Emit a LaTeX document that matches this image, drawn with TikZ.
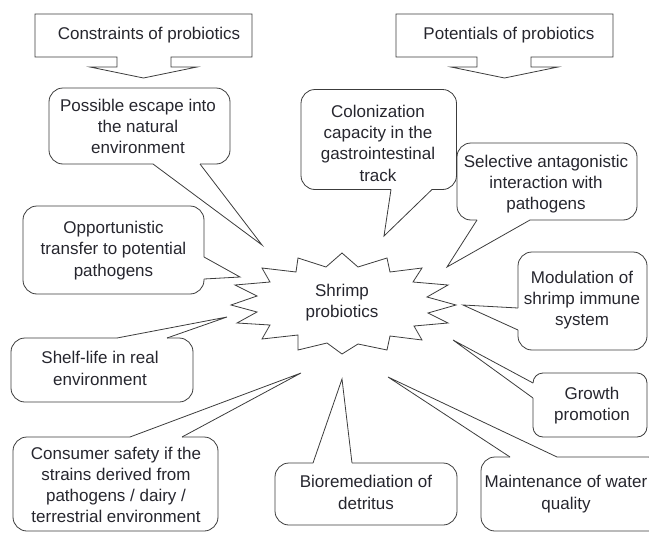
\documentclass[tikz,border=0pt]{standalone}
\usepackage{fontspec}
\setmainfont{Liberation Sans}
\usepackage{xcolor}
\usepackage{tikz}

\definecolor{linegray}{HTML}{3C3C3C}
\definecolor{textgray}{HTML}{26262E}

\tikzset{
  bubble/.style={draw=linegray, line width=0.8pt, rounded corners=14pt},
  tail/.style={draw=linegray, line width=0.8pt, line join=miter},
  bubbletext/.style={font=\fontsize{17}{21.2}\selectfont, text=textgray, align=center, inner sep=0pt}
}

\begin{document}
\begin{tikzpicture}[x=1pt, y=-1pt]
        % Frame
        \useasboundingbox (0,0) rectangle (649,533);
        \clip (0,0) rectangle (649,533);

        % Headings with down arrows
        \draw[tail] (117,57) -- (35,57) -- (35,14) -- (252,14) -- (252,57) -- (171,57) -- (171,67)
            -- (197,67) -- (143.5,78) -- (90,67) -- (117,67) -- cycle;
        \node[bubbletext] (constraints) at (149,35) {Constraints of probiotics};
        \draw[tail] (477,57) -- (396,57) -- (396,14) -- (613,14) -- (613,57) -- (531,57) -- (531,67)
            -- (558,67) -- (504.5,78) -- (451,67) -- (477,67) -- cycle;
        \node[bubbletext] (potentials) at (509,35) {Potentials of probiotics};

        % Centre star
        \draw[tail, fill=white] (342,253) -- (358,267) -- (387,258) -- (390,272) -- (422,268) -- (413,282)
            -- (448,285) -- (427,297) -- (456,305) -- (428,313) -- (448,323) -- (414,326)
            -- (422,340) -- (390,336) -- (387,350) -- (358,344) -- (342,354) -- (327,343)
            -- (298,350) -- (298,335) -- (262,339) -- (270,325) -- (237,323) -- (257,312)
            -- (231,305) -- (257,296) -- (235,285) -- (270,282) -- (262,268) -- (296,272)
            -- (298,258) -- (326,267) -- cycle;
        \node[bubbletext] (shrimp) at (342,302.5) {Shrimp\\probiotics};

        % Constraints
        \coordinate (escape tip) at (262,245);
        \draw[bubble] (200,164) -- (230,164) -- (230,88) -- (49,88) -- (49,164) -- (153,164);
        \draw[tail] (153,164) -- (escape tip) -- (200,164);
        \node[bubbletext] (escape) at (138,126.5) {Possible escape into\\the natural\\environment};

        \coordinate (opport tip) at (240,277);
        \draw[bubble] (204,279) -- (204,294) -- (23,294) -- (23,206) -- (204,206) -- (204,257);
        \draw[tail] (204,257) -- (opport tip) -- (204,279);
        \node[bubbletext] (opport) at (113.5,250.5) {Opportunistic\\transfer to potential\\pathogens};

        \coordinate (shelf tip) at (227,317);
        \draw[bubble] (117,338) -- (11,338) -- (11,402) -- (193,402) -- (193,338) -- (167,338);
        \draw[tail] (117,338) -- (shelf tip) -- (167,338);
        \node[bubbletext] (shelf) at (100,368.5) {Shelf-life in real\\environment};

        \coordinate (consumer tip) at (301,373);
        \draw[bubble] (130,437) -- (13,437) -- (13,531) -- (218,531) -- (218,437) -- (182,437);
        \draw[tail] (130,437) -- (consumer tip) -- (182,437);
        \node[bubbletext] (consumer) at (116,484.9) {Consumer safety if the\\strains derived from\\pathogens / dairy /\\terrestrial environment};

        % Potentials
        \coordinate (colon tip) at (384,236);
        \draw[bubble] (432,189.5) -- (456.5,189.5) -- (456.5,89.5) -- (301,89.5) -- (301,189.5) -- (391,189.5);
        \draw[tail] (391,189.5) -- (colon tip) -- (432,189.5);
        \node[bubbletext] (colon) at (378,143.2) {Colonization\\capacity in the\\gastrointestinal\\track};

        \coordinate (select tip) at (447,267);
        \draw[bubble] (530,220) -- (637,220) -- (637,143) -- (457,143) -- (457,220) -- (477,220);
        \draw[tail] (477,220) -- (select tip) -- (530,220);
        \node[bubbletext] (select) at (546,184.3) {Selective antagonistic\\interaction with\\pathogens};

        \coordinate (modul tip) at (463,305);
        \draw[bubble] (518,330) -- (518,350) -- (647,350) -- (647,252) -- (518,252) -- (518,308);
        \draw[tail] (518,308) -- (modul tip) -- (518,330);
        \node[bubbletext] (modul) at (582,300) {Modulation of\\shrimp immune\\system};

        \coordinate (growth tip) at (453,340);
        \draw[bubble, rounded corners=10pt] (533,398) -- (533,437) -- (647,437) -- (647,373) -- (533,373) -- (533,383);
        \draw[tail] (533,383) -- (growth tip) -- (533,398);
        \node[bubbletext] (growth) at (592,405.8) {Growth\\promotion};

        \coordinate (maint tip) at (388,377);
        \draw[bubble] (510,457) -- (481,457) -- (481,531) -- (662,531) -- (662,457) -- (557,457);
        \draw[tail] (510,457) -- (maint tip) -- (557,457);
        \node[bubbletext] (maint) at (566,494.2) {Maintenance of water\\quality};

        \coordinate (biorem tip) at (342,379);
        \draw[bubble] (313,463) -- (275,463) -- (275,525) -- (457,525) -- (457,463) -- (352,463);
        \draw[tail] (313,463) -- (biorem tip) -- (352,463);
        \node[bubbletext] (biorem) at (366,492.4) {Bioremediation of\\detritus};
\end{tikzpicture}
\end{document}
